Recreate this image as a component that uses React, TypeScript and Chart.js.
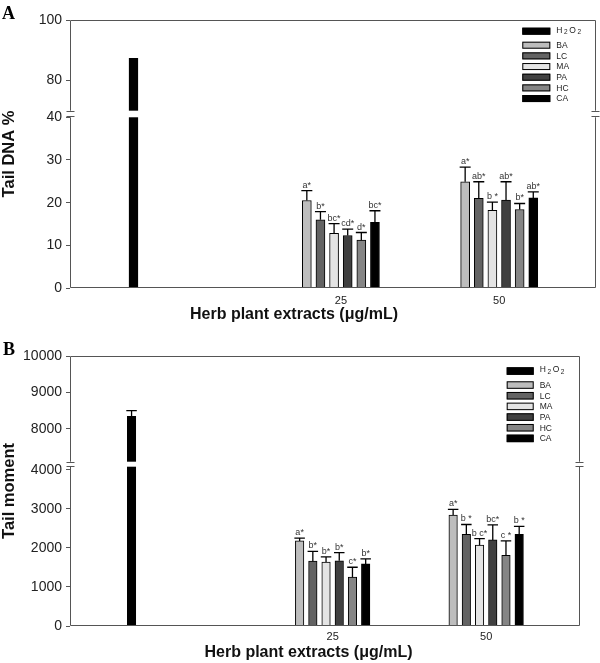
import React, { useEffect, useRef } from 'react';
import { Chart, registerables, LinearScale } from 'chart.js';

// ---------------- data ----------------
const extracts = ['BA', 'LC', 'MA', 'PA', 'HC', 'CA'];
const concentrations = ['25', '50'];
const controlLabel = 'H2O2';
const xTitle = 'Herb plant extracts (\u03bcg/mL)';

const tailDnaControl = 87.3;
const tailDnaControlErr = 0;
const tailDna25 = [20.5, 16.0, 12.8, 12.3, 11.2, 15.4];
const tailDna25Err = [2.3, 1.9, 2.3, 1.5, 1.8, 2.7];
const tailDna50 = [24.9, 21.0, 18.2, 20.6, 18.4, 21.1];
const tailDna50Err = [3.4, 3.9, 1.9, 4.3, 1.4, 1.4];
const tailDnaLetters25 = ['a*', 'b*', 'bc*', 'cd*', 'd*', 'bc*'];
const tailDnaLetters50 = ['a*', 'ab*', 'b *', 'ab*', 'b*', 'ab*'];
const tailDnaTicks = [0, 10, 20, 30, 40, 80, 100];

const tailMomentControl = 8345;
const tailMomentControlErr = 155;
const tailMoment25 = [2180, 1660, 1640, 1670, 1250, 1590];
const tailMoment25Err = [70, 250, 130, 210, 255, 130];
const tailMoment50 = [2840, 2350, 2070, 2205, 1810, 2350];
const tailMoment50Err = [145, 250, 170, 385, 370, 200];
const tailMomentLetters25 = ['a*', 'b*', 'b*', 'b*', 'c*', 'b*'];
const tailMomentLetters50 = ['a*', 'b *', 'b c*', 'bc*', 'c *', 'b *'];
const tailMomentTicks = [0, 1000, 2000, 3000, 4000, 8000, 9000, 10000];

// ---------------- styles / layout ----------------
const controlColor = '#000000';
const extractColors = ['#bdbdbd', '#636363', '#e4e4e4', '#404040', '#858585', '#000000'];
const FONT = '"Liberation Sans", Arial, Helvetica, sans-serif';
const FRAME = '#555555';
// x axis runs 0..100 (layout units); group centres and bar pitch in those units
const SLOT_CONTROL = 12.07;
const SLOT_GROUPS = [51.5, 81.6];
const BAR_PITCH = 2.59;

// -------- broken linear scale (two linear segments with a gap) --------
class BrokenLinearScale extends (LinearScale as any) {
  static id = 'brokenLinear';
  static defaults = {};
  _brkDec(value: number) {
    const o: any = (this as any).options;
    const lowerMax = o.lowerMax, upperMin = o.upperMin, lf = o.lowerFrac, gf = o.gapFrac;
    const min = (this as any).min, max = (this as any).max;
    if (value <= lowerMax) return ((value - min) / (lowerMax - min)) * lf;
    if (value < upperMin) return lf + ((value - lowerMax) / (upperMin - lowerMax)) * gf;
    return lf + gf + ((value - upperMin) / (max - upperMin)) * (1 - lf - gf);
  }
  getPixelForValue(value: number) {
    if (value === null || value === undefined || isNaN(value)) return NaN;
    return (this as any).getPixelForDecimal(this._brkDec(value));
  }
  getValueForPixel(pixel: number) {
    const o: any = (this as any).options;
    const d = (this as any).getDecimalForPixel(pixel);
    const lowerMax = o.lowerMax, upperMin = o.upperMin, lf = o.lowerFrac, gf = o.gapFrac;
    const min = (this as any).min, max = (this as any).max;
    if (d <= lf) return min + (d / lf) * (lowerMax - min);
    if (d < lf + gf) return lowerMax + ((d - lf) / gf) * (upperMin - lowerMax);
    return upperMin + ((d - lf - gf) / (1 - lf - gf)) * (max - upperMin);
  }
}

Chart.register(...registerables);
Chart.register(BrokenLinearScale as any);

type PanelCfg = {
  height: number;
  padTop: number;
  padRight: number;
  padBottom: number;
  xAxisHeight: number;
  xTickPad: number;
  titleX: number;
  titleY: number;
  yTitle: string;
  yMax: number;
  lowerMax: number;
  upperMin: number;
  lowerFrac: number;
  gapFrac: number;
  yTicks: number[];
  control: number;
  controlErr: number;
  groups: number[][];
  groupErrs: number[][];
  groupLetters: string[][];
  barThickness: number;
  legendLeft: number; // from chart area right
  legendTop: number; // from chart area top
  swatchW: number;
  swatchH: number;
};

const panelA: PanelCfg = {
  height: 326,
  padTop: 20,
  padRight: 4,
  padBottom: 20,
  xAxisHeight: 18,
  xTickPad: 6,
  titleX: 294,
  titleY: 314.5,
  yTitle: 'Tail DNA %',
  yMax: 100,
  lowerMax: 40,
  upperMin: 70,
  lowerFrac: 0.637,
  gapFrac: 0.0246,
  yTicks: tailDnaTicks,
  control: tailDnaControl,
  controlErr: tailDnaControlErr,
  groups: [tailDna25, tailDna50],
  groupErrs: [tailDna25Err, tailDna50Err],
  groupLetters: [tailDnaLetters25, tailDnaLetters50],
  barThickness: 9,
  legendLeft: 73.7,
  legendTop: 7.7,
  swatchW: 28,
  swatchH: 7,
};

const panelB: PanelCfg = {
  height: 337,
  padTop: 30,
  padRight: 20,
  padBottom: 19,
  xAxisHeight: 18,
  xTickPad: 4.4,
  titleX: 308.5,
  titleY: 326.8,
  yTitle: 'Tail moment',
  yMax: 10000,
  lowerMax: 4080,
  upperMin: 7100,
  lowerFrac: 0.59,
  gapFrac: 0.0185,
  yTicks: tailMomentTicks,
  control: tailMomentControl,
  controlErr: tailMomentControlErr,
  groups: [tailMoment25, tailMoment50],
  groupErrs: [tailMoment25Err, tailMoment50Err],
  groupLetters: [tailMomentLetters25, tailMomentLetters50],
  barThickness: 8.5,
  legendLeft: 73.3,
  legendTop: 11.3,
  swatchW: 27,
  swatchH: 7.5,
};

function drawH2O2(ctx: CanvasRenderingContext2D, x: number, y: number) {
  const parts: [string, string, number][] = [
    ['H', `8.5px ${FONT}`, 0],
    ['2', `6.5px ${FONT}`, 2.5],
    ['O', `8.5px ${FONT}`, 0],
    ['2', `6.5px ${FONT}`, 2.5],
  ];
  for (const [t, f, dy] of parts) {
    ctx.font = f;
    ctx.fillText(t, x, y + dy);
    x += ctx.measureText(t).width + 1.6;
  }
}

function decorPlugin(cfg: PanelCfg) {
  return {
    id: 'decor',
    afterDatasetsDraw(chart: any) {
      const ctx: CanvasRenderingContext2D = chart.ctx;
      const area = chart.chartArea;
      const ys = chart.scales.y;
      const L = Math.round(area.left) + 0.5;
      const R = Math.round(area.right) - 0.5;
      const T = Math.round(area.top) + 0.5;
      const B = Math.round(area.bottom) - 0.5;
      const gapTop = ys.getPixelForValue(cfg.upperMin);
      const gapBot = ys.getPixelForValue(cfg.lowerMax);
      ctx.save();
      // white break band across the bars
      ctx.fillStyle = '#ffffff';
      ctx.fillRect(area.left + 1, gapTop, area.right - area.left - 2, gapBot - gapTop);

      // frame
      ctx.strokeStyle = FRAME;
      ctx.lineWidth = 1;
      ctx.beginPath();
      ctx.moveTo(L, T); ctx.lineTo(R, T);
      ctx.moveTo(L, B); ctx.lineTo(R, B);
      for (const X of [L, R]) {
        ctx.moveTo(X, T); ctx.lineTo(X, gapTop);
        ctx.moveTo(X, gapBot); ctx.lineTo(X, B);
        ctx.moveTo(X - 4, Math.round(gapTop) + 0.5); ctx.lineTo(X + 4, Math.round(gapTop) + 0.5);
        ctx.moveTo(X - 4, Math.round(gapBot) - 0.5); ctx.lineTo(X + 4, Math.round(gapBot) - 0.5);
      }
      ctx.stroke();

      // error bars and letters
      const errs: number[][] = [[cfg.controlErr], ...extracts.map((_, i) => cfg.groupErrs.map((g) => g[i]))];
      const vals: number[][] = [[cfg.control], ...extracts.map((_, i) => cfg.groups.map((g) => g[i]))];
      const letters: string[][] = [[''], ...extracts.map((_, i) => cfg.groupLetters.map((g) => g[i]))];
      ctx.strokeStyle = '#000';
      ctx.fillStyle = '#333';
      ctx.lineWidth = 1.3;
      ctx.font = `9px ${FONT}`;
      ctx.textAlign = 'center';
      ctx.textBaseline = 'alphabetic';
      chart.data.datasets.forEach((_: any, di: number) => {
        const meta = chart.getDatasetMeta(di);
        meta.data.forEach((el: any, j: number) => {
          const e = errs[di][j];
          if (!e) return;
          const topPx = ys.getPixelForValue(vals[di][j] + e);
          const half = cfg.barThickness / 2 + 1;
          ctx.beginPath();
          ctx.moveTo(el.x, el.y);
          ctx.lineTo(el.x, topPx);
          ctx.moveTo(el.x - half, topPx);
          ctx.lineTo(el.x + half, topPx);
          ctx.stroke();
          if (letters[di][j]) ctx.fillText(letters[di][j], el.x, topPx - 3);
        });
      });

      // legend
      const lx = area.right - cfg.legendLeft;
      const items = [{ label: controlLabel, color: controlColor }, ...extracts.map((n, i) => ({ label: n, color: extractColors[i] }))];
      let yTop = area.top + cfg.legendTop;
      ctx.textAlign = 'left';
      ctx.textBaseline = 'middle';
      items.forEach((it, i) => {
        ctx.fillStyle = it.color;
        ctx.fillRect(lx, yTop, cfg.swatchW, cfg.swatchH);
        ctx.strokeStyle = '#000';
        ctx.lineWidth = 1;
        ctx.strokeRect(lx + 0.5, yTop + 0.5, cfg.swatchW - 1, cfg.swatchH - 1);
        ctx.fillStyle = '#222';
        const cy = yTop + cfg.swatchH / 2;
        if (i === 0) drawH2O2(ctx, lx + cfg.swatchW + 6, cy - 1);
        else {
          ctx.font = `8.5px ${FONT}`;
          ctx.fillText(it.label, lx + cfg.swatchW + 6, cy + 0.5);
        }
        yTop += i === 0 ? 14 : 10.67;
      });

      // x-axis title
      ctx.fillStyle = '#111';
      ctx.font = `bold 16px ${FONT}`;
      ctx.textAlign = 'center';
      ctx.textBaseline = 'middle';
      ctx.fillText(xTitle, cfg.titleX, cfg.titleY);
      ctx.restore();
    },
  };
}

function buildConfig(cfg: PanelCfg): any {
  const datasets = [
    {
      label: controlLabel,
      data: [{ x: SLOT_CONTROL, y: cfg.control }],
      backgroundColor: controlColor,
    },
    ...extracts.map((name, i) => ({
      label: name,
      data: cfg.groups.map((g, gi) => ({ x: SLOT_GROUPS[gi] + (i - 2.5) * BAR_PITCH, y: g[i] })),
      backgroundColor: extractColors[i],
    })),
  ].map((d) => ({
    ...d,
    borderColor: '#000',
    borderWidth: 1,
    borderSkipped: 'start',
    grouped: false,
    barThickness: cfg.barThickness,
  }));

  return {
    type: 'bar',
    data: { datasets },
    options: {
      animation: false,
      responsive: false,
      events: [],
      layout: { padding: { top: cfg.padTop, right: cfg.padRight, left: 0, bottom: cfg.padBottom } },
      plugins: {
        legend: { display: false },
        tooltip: { enabled: false },
        title: { display: false },
      },
      scales: {
        x: {
          type: 'linear',
          min: 0,
          max: 100,
          offset: false,
          grid: { display: false, drawTicks: false, tickLength: 0 },
          border: { display: false },
          afterBuildTicks: (s: any) => {
            s.ticks = SLOT_GROUPS.map((v) => ({ value: v }));
          },
          afterFit: (s: any) => {
            s.height = cfg.xAxisHeight;
          },
          ticks: {
            autoSkip: false,
            maxRotation: 0,
            padding: cfg.xTickPad,
            color: '#222',
            font: { family: FONT, size: 11 },
            callback: (_v: any, i: number) => concentrations[i],
          },
        },
        y: {
          type: 'brokenLinear',
          min: 0,
          max: cfg.yMax,
          lowerMax: cfg.lowerMax,
          upperMin: cfg.upperMin,
          lowerFrac: cfg.lowerFrac,
          gapFrac: cfg.gapFrac,
          afterBuildTicks: (s: any) => {
            s.ticks = cfg.yTicks.map((v) => ({ value: v }));
          },
          afterFit: (s: any) => {
            s.width = 70;
          },
          grid: { display: true, drawOnChartArea: false, drawTicks: true, tickLength: 4, color: FRAME, lineWidth: 1 },
          border: { display: false },
          ticks: {
            autoSkip: false,
            padding: 4,
            color: '#222',
            font: { family: FONT, size: 14 },
            callback: (v: any) => String(v),
          },
          title: {
            display: true,
            text: cfg.yTitle,
            color: '#111',
            font: { family: FONT, size: 16.5, weight: 'bold' },
            padding: { top: 0, bottom: 0 },
          },
        },
      },
    },
    plugins: [decorPlugin(cfg)],
  };
}

function Panel({ cfg, top }: { cfg: PanelCfg; top: number }) {
  const ref = useRef<HTMLCanvasElement>(null);
  useEffect(() => {
    const chart = new Chart(ref.current as HTMLCanvasElement, buildConfig(cfg));
    return () => chart.destroy();
  }, [cfg]);
  return (
    <canvas
      ref={ref}
      width={600}
      height={cfg.height}
      style={{ position: 'absolute', left: 0, top, display: 'block', width: 600, height: cfg.height }}
    />
  );
}

const letterStyle = (left: number, top: number): React.CSSProperties => ({
  position: 'absolute',
  left,
  top,
  fontFamily: '"Liberation Serif", "Times New Roman", serif',
  fontWeight: 'bold',
  fontSize: 18,
  lineHeight: '18px',
  color: '#000',
});

export default function App() {
  useEffect(() => {
    document.body.style.margin = '0';
  }, []);
  return (
    <div style={{ position: 'relative', width: 600, height: 663, background: '#fff', overflow: 'hidden' }}>
      <Panel cfg={panelA} top={0} />
      <Panel cfg={panelB} top={326} />
      <div style={letterStyle(2, 4)}>A</div>
      <div style={letterStyle(3, 340)}>B</div>
    </div>
  );
}
